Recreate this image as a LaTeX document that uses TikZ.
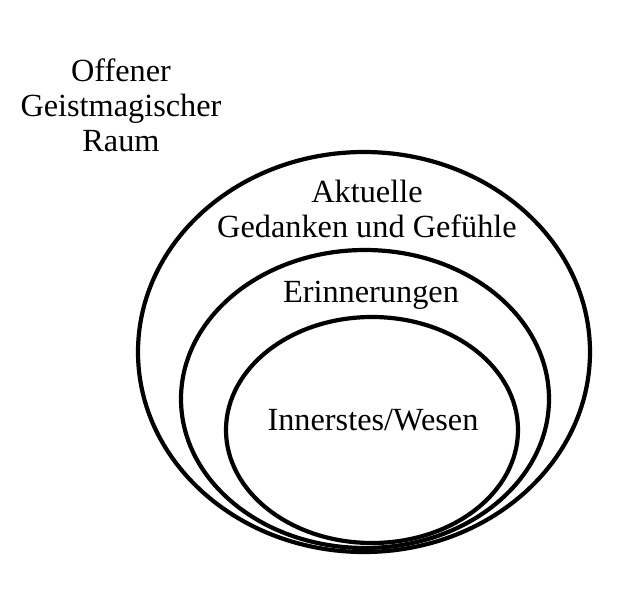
\documentclass[tikz,border=0pt]{standalone}
\usepackage{fontspec}
\setmainfont{Liberation Serif}
\usetikzlibrary{shapes.geometric}
\begin{document}
\begin{tikzpicture}[x=1pt,y=-1pt,
  ring/.style={draw=black, line width=4.2pt, ellipse, inner sep=0pt, outer sep=0pt},
  lbl/.style={align=center, inner sep=0pt, font=\fontsize{32.3}{35}\selectfont}]
\useasboundingbox (0,0) rectangle (633,599);
\node[ring, minimum width=452pt, minimum height=400pt] (outer) at (364,352) {};
\node[ring, minimum width=368pt, minimum height=298pt] (middle) at (365,399) {};
\node[ring, minimum width=292pt, minimum height=226pt] (inner) at (372,430) {};
\node[lbl] (raum) at (121,105) {Offener\\Geistmagischer\\Raum};
\node[lbl] (aktuell) at (367,209) {Aktuelle\\Gedanken und Gefühle};
\node[lbl] (erinn) at (371,295) {Erinnerungen};
\node[lbl] (wesen) at (373,420) {Innerstes/Wesen};
\end{tikzpicture}
\end{document}
